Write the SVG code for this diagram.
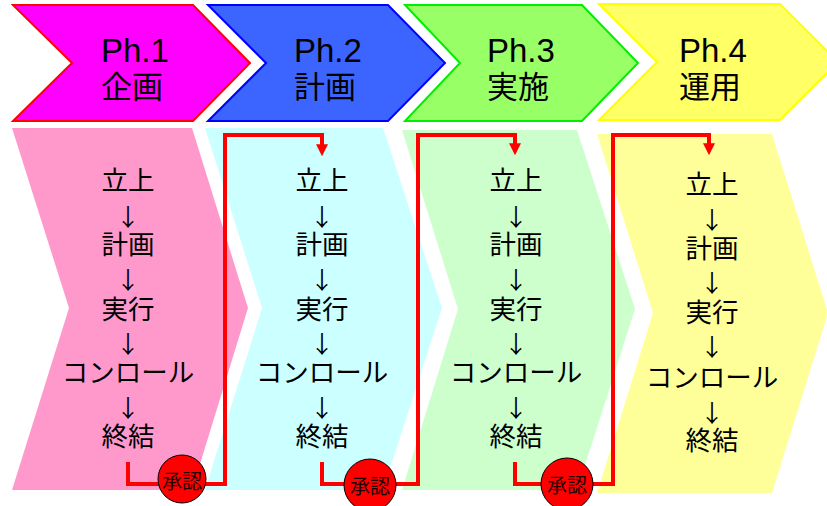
<svg xmlns="http://www.w3.org/2000/svg" width="827" height="506" viewBox="0 0 827 506">
<style>
.ph{font-family:"Liberation Sans","Noto Sans CJK JP",sans-serif;font-size:33px;fill:#000}
.pk{font-family:"Noto Sans CJK JP",sans-serif;font-size:31px}
.st{font-family:"Noto Sans CJK JP",sans-serif;font-size:26.5px;fill:#000;text-anchor:middle;dominant-baseline:central}
.ar{font-size:24px}
.ok{font-family:"Noto Sans CJK JP",sans-serif;font-size:20px;fill:#200;text-anchor:middle;dominant-baseline:central}
.conn{fill:none;stroke:#ff0000;stroke-width:4;marker-end:url(#ah)}
.stamp{fill:#ff0000;stroke:#000;stroke-width:1}
</style>
<defs>
<marker id="ah" markerWidth="3" markerHeight="3" refX="1.2" refY="1.5" orient="auto" markerUnits="strokeWidth">
<path d="M0,0 L3,1.5 L0,3 z" fill="#ff0000"/>
</marker>
</defs>
<rect width="827" height="506" fill="#fff"/>

<g id="phase1">
<polygon points="13,5 193,5 250,63 193,121 13,121 72,63" fill="#ff00ff" stroke="#ff0000" stroke-width="2"/>
<text class="ph" x="101" y="62">Ph.1<tspan class="pk" x="101" y="98">企画</tspan></text>
</g>
<g id="phase2">
<polygon points="208,5 388,5 445,63 388,121 208,121 266,63" fill="#3c64ff" stroke="#0000ff" stroke-width="2"/>
<text class="ph" x="294" y="62">Ph.2<tspan class="pk" x="294" y="98">計画</tspan></text>
</g>
<g id="phase3">
<polygon points="405,5 582,5 638,63 582,121 405,121 460,63" fill="#99ff66" stroke="#00ee00" stroke-width="2"/>
<text class="ph" x="487" y="62">Ph.3<tspan class="pk" x="487" y="98">実施</tspan></text>
</g>
<g id="phase4">
<polygon points="599,4 780,4 838,62 780,120 599,120 657,62" fill="#ffff66" stroke="#ffff00" stroke-width="2"/>
<text class="ph" x="679" y="62">Ph.4<tspan class="pk" x="679" y="98">運用</tspan></text>
</g>

<g id="steps1">
<polygon points="12,128 192,128 248,308 192,490 12,490 69,308" fill="#ff99cc"/>
<text class="st"><tspan x="128" y="178">立上</tspan><tspan class="ar" x="128" y="215">↓</tspan><tspan x="128" y="242">計画</tspan><tspan class="ar" x="128" y="278">↓</tspan><tspan x="128" y="307">実行</tspan><tspan class="ar" x="128" y="342">↓</tspan><tspan x="128" y="370">コンロール</tspan><tspan class="ar" x="128" y="406">↓</tspan><tspan x="128" y="434">終結</tspan></text>
</g>
<g id="steps2">
<polygon points="205,128 383,128 442,308 383,490 205,490 262,308" fill="#ccffff"/>
<text class="st"><tspan x="322" y="178">立上</tspan><tspan class="ar" x="322" y="215">↓</tspan><tspan x="322" y="242">計画</tspan><tspan class="ar" x="322" y="278">↓</tspan><tspan x="322" y="307">実行</tspan><tspan class="ar" x="322" y="342">↓</tspan><tspan x="322" y="370">コンロール</tspan><tspan class="ar" x="322" y="406">↓</tspan><tspan x="322" y="434">終結</tspan></text>
</g>
<g id="steps3">
<polygon points="402,130 577,130 635,309 577,490 402,490 458,309" fill="#ccffcc"/>
<text class="st"><tspan x="516" y="178">立上</tspan><tspan class="ar" x="516" y="215">↓</tspan><tspan x="516" y="242">計画</tspan><tspan class="ar" x="516" y="278">↓</tspan><tspan x="516" y="307">実行</tspan><tspan class="ar" x="516" y="342">↓</tspan><tspan x="516" y="370">コンロール</tspan><tspan class="ar" x="516" y="406">↓</tspan><tspan x="516" y="434">終結</tspan></text>
</g>
<g id="steps4">
<polygon points="597,134 772,134 828,313 772,493 597,493 653,313" fill="#ffff99"/>
<text class="st"><tspan x="712" y="182">立上</tspan><tspan class="ar" x="712" y="218">↓</tspan><tspan x="712" y="246">計画</tspan><tspan class="ar" x="712" y="281">↓</tspan><tspan x="712" y="310">実行</tspan><tspan class="ar" x="712" y="345">↓</tspan><tspan x="712" y="375">コンロール</tspan><tspan class="ar" x="712" y="411">↓</tspan><tspan x="712" y="438">終結</tspan></text>
</g>

<g id="connectors">
<path class="conn" d="M128,462 V484 H225 V135 H322 V149"/>
<path class="conn" d="M322,462 V484 H418 V135 H515 V148"/>
<path class="conn" d="M515,462 V484 H613 V135 H709 V148"/>
</g>

<g id="approve1">
<circle class="stamp" cx="182" cy="479" r="24"/>
<text class="ok" x="182" y="480">承認</text>
</g>
<g id="approve2">
<circle class="stamp" cx="370" cy="485" r="26"/>
<text class="ok" x="370" y="485">承認</text>
</g>
<g id="approve3">
<circle class="stamp" cx="567" cy="484" r="26"/>
<text class="ok" x="567" y="484">承認</text>
</g>
</svg>
